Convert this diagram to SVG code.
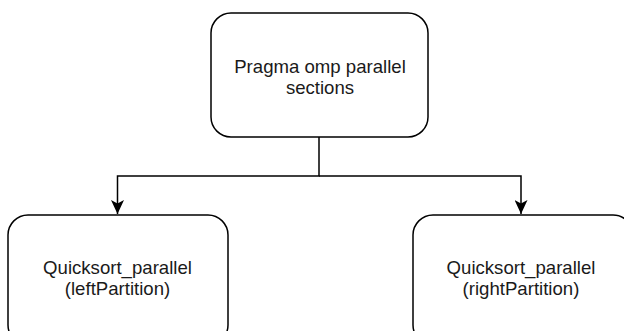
<svg xmlns="http://www.w3.org/2000/svg" width="624" height="331" viewBox="0 0 624 331">
  <style>
    .box { fill: #ffffff; stroke: #000000; stroke-width: 1.5; }
    .lbl { font-family: "Liberation Sans", Arial, sans-serif; font-size: 18.6px; fill: #1a1a1a; text-anchor: middle; }
    .edge { fill: none; stroke: #000000; stroke-width: 1.5; }
  </style>
  <defs>
    <marker id="arrow" viewBox="0 0 14 13" refX="14" refY="6.5" markerWidth="14" markerHeight="13" markerUnits="userSpaceOnUse" orient="auto">
      <path d="M0,0 L14,6.5 L0,13 L3.5,6.5 Z" fill="#000000"/>
    </marker>
  </defs>
  <rect width="624" height="331" fill="#ffffff"/>
  <g id="connectors">
    <path class="edge" d="M319,137 V176 H117.5 V214" marker-end="url(#arrow)"/>
    <path class="edge" d="M319,176 H521 V214" marker-end="url(#arrow)"/>
  </g>
  <g id="node-pragma">
    <rect class="box" x="211" y="13" width="217" height="124" rx="20" ry="20"/>
    <text class="lbl" x="320" y="73">Pragma omp parallel</text>
    <text class="lbl" x="320" y="94">sections</text>
  </g>
  <g id="node-left">
    <rect class="box" x="8" y="215" width="220" height="130" rx="20" ry="20"/>
    <text class="lbl" x="117.5" y="274">Quicksort_parallel</text>
    <text class="lbl" x="117.5" y="295">(leftPartition)</text>
  </g>
  <g id="node-right">
    <rect class="box" x="413" y="215" width="220" height="130" rx="20" ry="20"/>
    <text class="lbl" x="521" y="274">Quicksort_parallel</text>
    <text class="lbl" x="521" y="295">(rightPartition)</text>
  </g>
</svg>
